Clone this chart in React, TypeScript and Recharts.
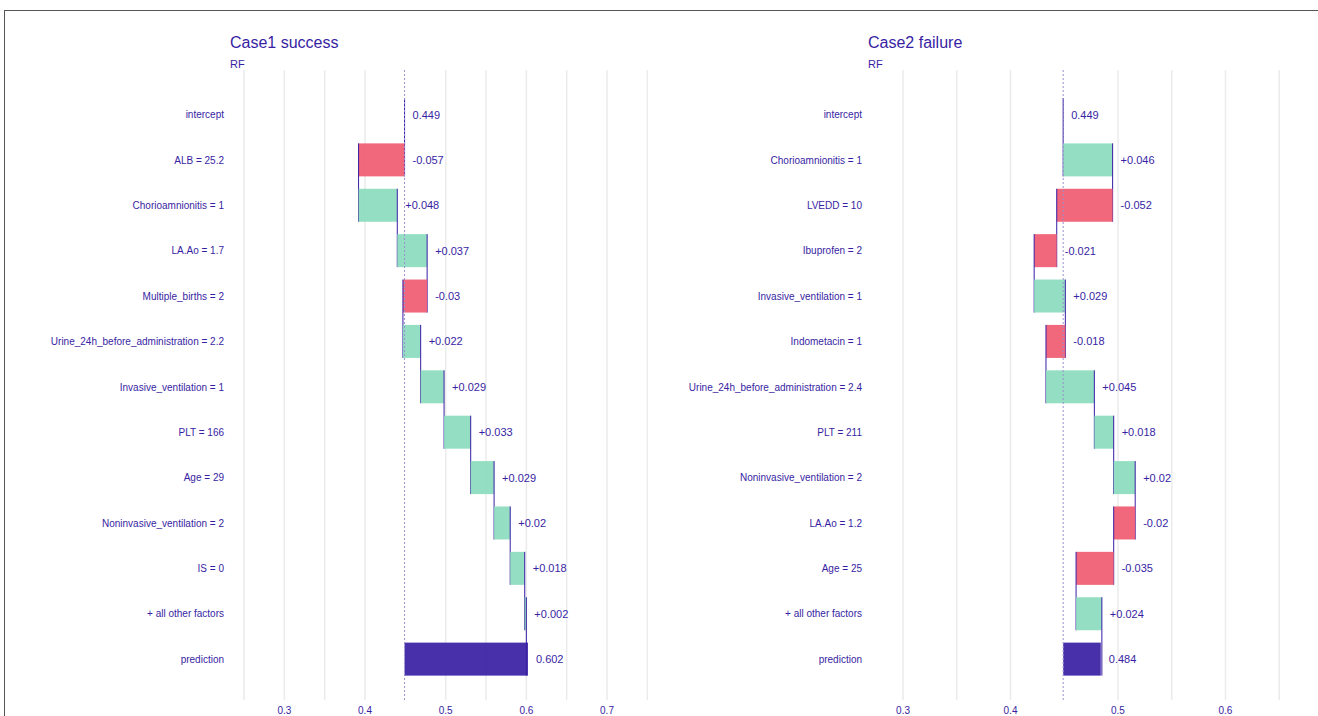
import React from "react";
import { BarChart, Bar, XAxis, YAxis, CartesianGrid, ReferenceLine } from "recharts";

// Case 1 (success) — first value is the intercept, last is the prediction
const case1Labels = [
  "intercept",
  "ALB = 25.2",
  "Chorioamnionitis = 1",
  "LA.Ao = 1.7",
  "Multiple_births = 2",
  "Urine_24h_before_administration = 2.2",
  "Invasive_ventilation = 1",
  "PLT = 166",
  "Age = 29",
  "Noninvasive_ventilation = 2",
  "IS = 0",
  "+ all other factors",
  "prediction",
];
const case1Values = [0.449, -0.057, 0.048, 0.037, -0.03, 0.022, 0.029, 0.033, 0.029, 0.02, 0.018, 0.002, 0.602];

// Case 2 (failure)
const case2Labels = [
  "intercept",
  "Chorioamnionitis = 1",
  "LVEDD = 10",
  "Ibuprofen = 2",
  "Invasive_ventilation = 1",
  "Indometacin = 1",
  "Urine_24h_before_administration = 2.4",
  "PLT = 211",
  "Noninvasive_ventilation = 2",
  "LA.Ao = 1.2",
  "Age = 25",
  "+ all other factors",
  "prediction",
];
const case2Values = [0.449, 0.046, -0.052, -0.021, 0.029, -0.018, 0.045, 0.018, 0.02, -0.02, -0.035, 0.024, 0.484];

const case1Domain = [0.2326, 0.7719];
const case2Domain = [0.2674, 0.7047];
// grid every 0.05 (the 0.45 line is replaced by the dotted intercept line)
const case1Grid = [0.25, 0.3, 0.35, 0.4, 0.5, 0.55, 0.6, 0.65, 0.7, 0.75];
const case2Grid = [0.3, 0.35, 0.4, 0.5, 0.55, 0.6, 0.65, 0.7];
const case1Ticks = [0.3, 0.4, 0.5, 0.6, 0.7];
const case2Ticks = [0.3, 0.4, 0.5, 0.6];

const PURPLE = "#371ea3";
const GREEN = "#8bdcbe";
const RED = "#f05a71";
const FONT = "'Liberation Sans', Arial, sans-serif";

const PLOT_TOP = 70;
const PLOT_BOTTOM = 700;
const PAD_TOP = 22;
const PAD_BOTTOM = 18;
const BAR_SIZE = 33;

type Row = { name: string; start: number; end: number; kind: string; value: number };

function buildRows(labels: string[], values: number[]): Row[] {
  const n = values.length;
  let cum = values[0];
  return labels.map((name, i) => {
    if (i === 0) return { name, start: values[0], end: values[0], kind: "intercept", value: values[0] };
    if (i === n - 1) return { name, start: values[0], end: values[i], kind: "prediction", value: values[i] };
    const start = cum;
    cum = cum + values[i];
    return { name, start, end: cum, kind: values[i] >= 0 ? "up" : "down", value: values[i] };
  });
}

function fmt(row: Row) {
  const s = String(Number(row.value.toFixed(3)));
  if (row.kind === "intercept" || row.kind === "prediction") return s;
  return row.value >= 0 ? "+" + s : s;
}

function makeShape(band: number) {
  return (props: any) => {
    const { x, y, width, height, payload } = props;
    const row = payload as Row;
    const left = Math.min(x, x + width);
    const w = Math.abs(width);
    const fill = row.kind === "up" ? GREEN : row.kind === "down" ? RED : PURPLE;
    const endX = row.kind === "up" ? left + w : left;
    return (
      <g>
        {w > 0 && (
          <rect x={left} y={y} width={w} height={height} fill={fill} fillOpacity={0.92} />
        )}
        {row.kind !== "prediction" && (
          <line x1={endX} x2={endX} y1={y} y2={y + band + height} stroke={PURPLE} strokeWidth={1} />
        )}
        <text
          x={left + w + 8}
          y={y + height / 2}
          dominantBaseline="central"
          fontSize={11}
          fontFamily={FONT}
          fill={PURPLE}
        >
          {fmt(row)}
        </text>
      </g>
    );
  };
}

// single-line y tick (no wrapping of the long labels)
const YTick = (props: any) => {
  const { x, y, payload } = props;
  return (
    <text x={x} y={y} textAnchor="end" dominantBaseline="central" fontSize={10} fontFamily={FONT} fill={PURPLE}>
      {payload.value}
    </text>
  );
};

function Panel({ labels, values, domain, grid, ticks, width }: any) {
  const rows = buildRows(labels, values);
  const band = (PLOT_BOTTOM - PLOT_TOP - PAD_TOP - PAD_BOTTOM) / rows.length;
  return (
    <BarChart
      layout="vertical"
      width={width}
      height={740}
      data={rows}
      margin={{ top: PLOT_TOP, right: 0, bottom: 0, left: 0 }}
      barSize={BAR_SIZE}
    >
      <CartesianGrid horizontal={false} verticalValues={grid} stroke="#ebebeb" strokeWidth={1.5} />
      <XAxis
        type="number"
        domain={domain}
        allowDataOverflow
        ticks={ticks}
        interval={0}
        height={40}
        axisLine={false}
        tickLine={false}
        tickSize={0}
        tickMargin={7}
        tick={{ fill: PURPLE, fontSize: 10, fontFamily: FONT }}
      />
      <YAxis
        type="category"
        dataKey="name"
        width={230}
        axisLine={false}
        tickLine={false}
        tickSize={0}
        tickMargin={6}
        padding={{ top: PAD_TOP, bottom: PAD_BOTTOM }}
        interval={0}
        tick={<YTick />}
      />
      <ReferenceLine x={values[0]} stroke="#9a90cf" strokeDasharray="2 2" strokeWidth={1} />
      <Bar
        dataKey={(d: Row) => [Math.min(d.start, d.end), Math.max(d.start, d.end)]}
        shape={makeShape(band)}
        isAnimationActive={false}
      />
    </BarChart>
  );
}

export default function App() {
  const titleStyle: React.CSSProperties = {
    position: "absolute",
    fontFamily: FONT,
    color: PURPLE,
    whiteSpace: "nowrap",
  };
  return (
    <div
      style={{
        position: "absolute",
        left: 0,
        top: 0,
        width: 1318,
        height: 716,
        overflow: "hidden",
        background: "#fff",
      }}
    >
      <div
        style={{
          position: "absolute",
          left: 4,
          top: 10,
          width: 1400,
          height: 800,
          border: "1px solid #555",
        }}
      />
      <div style={{ position: "absolute", left: 0, top: 0 }}>
        <Panel labels={case1Labels} values={case1Values} domain={case1Domain} grid={case1Grid} ticks={case1Ticks} width={665} />
      </div>
      <div style={{ position: "absolute", left: 638, top: 0 }}>
        <Panel labels={case2Labels} values={case2Values} domain={case2Domain} grid={case2Grid} ticks={case2Ticks} width={700} />
      </div>
      <div style={{ ...titleStyle, left: 230, top: 35, fontSize: 16, lineHeight: "16px" }}>Case1 success</div>
      <div style={{ ...titleStyle, left: 230, top: 59, fontSize: 11, lineHeight: "11px" }}>RF</div>
      <div style={{ ...titleStyle, left: 868, top: 35, fontSize: 16, lineHeight: "16px" }}>Case2 failure</div>
      <div style={{ ...titleStyle, left: 868, top: 59, fontSize: 11, lineHeight: "11px" }}>RF</div>
    </div>
  );
}
